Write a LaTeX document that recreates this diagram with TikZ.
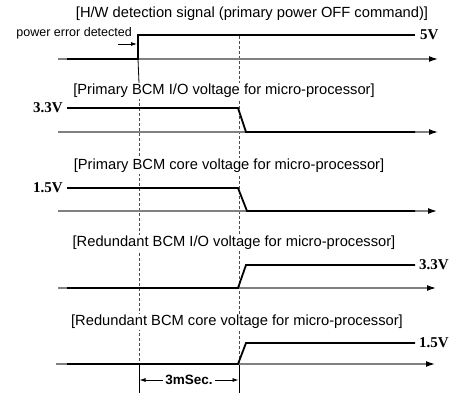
\documentclass[tikz,border=0pt]{standalone}
\usepackage{fontspec}
\setmainfont{Liberation Sans}
\newfontfamily\tnr{Liberation Serif}
\usetikzlibrary{arrows.meta}
\begin{document}
\begin{tikzpicture}[x=1pt,y=-1pt,
  axis/.style={draw=black!50, line width=1.3pt, -{Latex[length=9pt,width=6pt,black]}, shorten >=-1pt},
  sig/.style={draw=black, line width=1.8pt, line join=miter},
  guide/.style={draw=black!70, line width=0.8pt, dash pattern=on 3pt off 2pt},
  ext/.style={draw=black, line width=0.8pt},
  title/.style={font=\fontsize{14.7}{16}\selectfont, fill=white, inner sep=1pt},
  volt/.style={font=\tnr\bfseries\fontsize{15}{16}\selectfont, inner sep=1pt},
  small/.style={font=\fontsize{12.5}{14}\selectfont, inner sep=0pt},
  dim/.style={font=\bfseries\fontsize{13.5}{14}\selectfont, inner sep=2pt},
  dimarrow/.style={draw=black, line width=0.8pt, -{Latex[length=6pt,width=4pt]}},
]
\useasboundingbox (0,0) rectangle (457,395);

% guide lines
\coordinate (g1t) at (139,83);
\coordinate (g1b) at (139,364);
\coordinate (g1e) at (139,393);
\coordinate (g2t) at (239,36);
\coordinate (g2b) at (239,364);
\coordinate (g2e) at (239,393);
\draw[guide] (g1t) -- (g1b);
\draw[guide] (g2t) -- (g2b);
\draw[ext] (g1b) -- (g1e);
\draw[ext] (g2b) -- (g2e);

% titles
\node[title] (t1) at (252,14) {[H/W detection signal (primary power OFF command)]};
\node[title] (t2) at (224,91) {[Primary BCM I/O voltage for micro-processor]};
\node[title] (t3) at (229,166) {[Primary BCM core voltage for micro-processor]};
\node[title] (t4) at (234,243) {[Redundant BCM I/O voltage for micro-processor]};
\node[title] (t5) at (237,322) {[Redundant BCM core voltage for micro-processor]};

% axes
\coordinate (a1s) at (58,59);  \coordinate (a1e) at (437,59);
\coordinate (a2s) at (58,132); \coordinate (a2e) at (437,132);
\coordinate (a3s) at (58,211); \coordinate (a3e) at (436,211);
\coordinate (a4s) at (58,288); \coordinate (a4e) at (435,288);
\coordinate (a5s) at (56,364); \coordinate (a5e) at (434,364);
\foreach \i in {1,...,5} { \draw[axis] (a\i s) -- (a\i e); }

% panel 1
\draw[sig] (67,59) -- (138,59) -- (138,35) -- (415,35);
\draw[ext] (138,59) -- (g1t);
\node[volt, anchor=west] (v1) at (419,35) {5V};
\node[small, anchor=east] (ped) at (132,33) {power error detected};
\coordinate (pa) at (118,44);
\coordinate (pb) at (137,44);
\draw[dimarrow] (pa) -- (pb);

% panel 2
\draw[sig] (67,108) -- (238,108) -- (246,132) -- (415,132);
\node[volt, anchor=east] (v2) at (64,108) {3.3V};

% panel 3
\draw[sig] (67,188) -- (238,188) -- (247,211) -- (415,211);
\node[volt, anchor=east] (v3) at (64,188) {1.5V};

% panel 4
\draw[sig] (67,288) -- (238,288) -- (246,265) -- (415,265);
\node[volt, anchor=west] (v4) at (418,265) {3.3V};

% panel 5
\draw[sig] (67,364) -- (238,364) -- (246,343) -- (415,343);
\node[volt, anchor=west] (v5) at (418,343) {1.5V};

% 3 ms dimension
\node[dim] (ms) at (189,380) {3mSec.};
\coordinate (m1) at (139.5,380);
\coordinate (m2) at (238.5,380);
\draw[dimarrow] (ms.west) -- (m1);
\draw[dimarrow] (ms.east) -- (m2);
\end{tikzpicture}
\end{document}
